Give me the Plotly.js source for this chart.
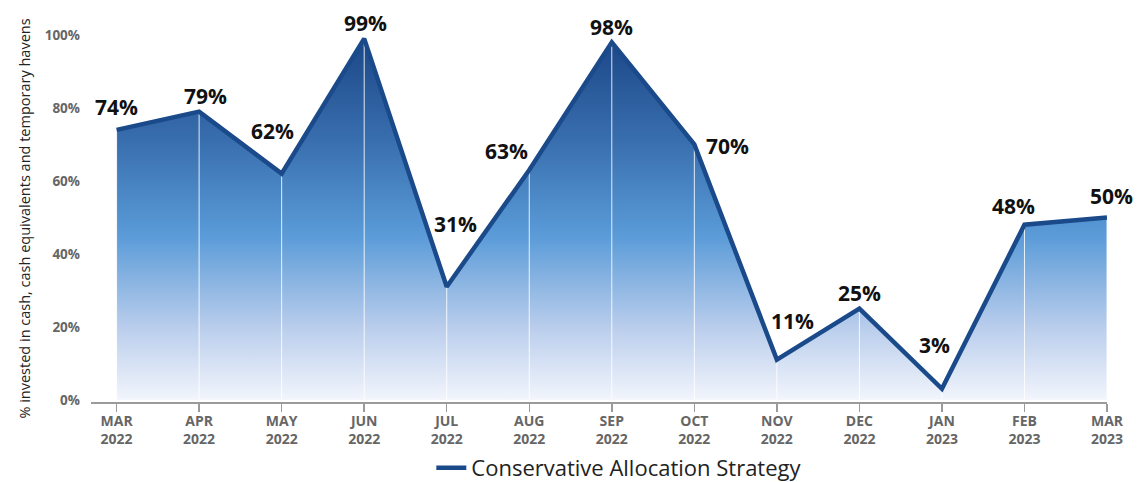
<!DOCTYPE html>
<html>
<head>
<meta charset="utf-8">
<script src="https://cdn.plot.ly/plotly-3.0.1.min.js"></script>
<style>html,body{margin:0;padding:0;background:#fff}#chart{width:1148px;height:482px}</style>
</head>
<body>
<div id="chart"></div>
<script>
const months = ["MAR<br>2022","APR<br>2022","MAY<br>2022","JUN<br>2022","JUL<br>2022","AUG<br>2022","SEP<br>2022","OCT<br>2022","NOV<br>2022","DEC<br>2022","JAN<br>2023","FEB<br>2023","MAR<br>2023"];
const values = [74,79,62,99,31,63,98,70,11,25,3,48,50];
const yTicks = [0,20,40,60,80,100];
const seriesName = "Conservative Allocation Strategy";
// label offsets from each point, in pixels (dx, dy up)
const labelDx = [0, 6, -9, 1, 9, -23, 0, 33, 16, 0, -7, -11, 4];
const labelDy = [23, 16, 43, 16, 63, 19, 15, -2, 39, 16, 44, 19, 21];

const gx = [], gy = [];
months.forEach((m,i)=>{ gx.push(m,m,null); gy.push(0,values[i],null); });

const data = [
  {
    x: months, y: values, type: 'scatter', mode: 'none', fill: 'tozeroy',
    fillgradient: {type:'vertical', start:0, stop:100,
      colorscale: [[0,'#f2f5fc'],[0.2,'#b9cdec'],[0.45,'#5a9bd8'],[0.7,'#3a70b0'],[1,'#1a4585']]},
    showlegend: false, hoverinfo: 'skip'
  },
  {
    x: gx, y: gy, type: 'scatter', mode: 'lines',
    line: {color: 'rgba(255,255,255,0.85)', width: 1},
    showlegend: false, hoverinfo: 'skip'
  },
  {
    x: months, y: values, type: 'scatter', mode: 'lines', name: seriesName,
    line: {color: '#1b4a8b', width: 4.5},
    cliponaxis: false, hoverinfo: 'skip'
  }
];

const annotations = months.map((m,i)=>({
  x: m, y: values[i], xref: 'x', yref: 'y', text: values[i] + '%', showarrow: false,
  xshift: labelDx[i], yshift: labelDy[i], xanchor: 'center', yanchor: 'middle',
  font: {family: 'Open Sans', size: 21, color: '#111', weight: 700}
}));

const layout = {
  width: 1148, height: 482,
  margin: {l: 91, r: 41, t: 35, b: 80, autoexpand: false},
  paper_bgcolor: '#fff', plot_bgcolor: '#fff',
  font: {family: 'Open Sans'},
  annotations: annotations,
  xaxis: {
    type: 'category', range: [-0.31, 12.0],
    showgrid: false, zeroline: false,
    showline: true, linecolor: '#9a9a9a', linewidth: 2,
    ticks: 'outside', ticklen: 8, tickcolor: '#9a9a9a', tickwidth: 1.5,
    ticklabelstandoff: -3,
    tickfont: {family: 'Open Sans', size: 14, color: '#666', weight: 700}
  },
  yaxis: {
    range: [-0.6, 100], tickvals: yTicks, ticktext: yTicks.map(v => v + '%'),
    showgrid: false, zeroline: false, showline: false, ticks: '',
    tickfont: {family: 'Open Sans', size: 13.5, color: '#666', weight: 700},
    ticklabelstandoff: 10,
    title: {text: '% invested in cash, cash equivalents and temporary havens',
      font: {family: 'Open Sans', size: 14.5, color: '#222'}, standoff: 10}
  },
  showlegend: true,
  legend: {orientation: 'h', x: 0.52, xanchor: 'center', y: -0.18, yanchor: 'middle',
    font: {family: 'Open Sans', size: 22, color: '#222'}}
};

Plotly.newPlot('chart', data, layout, {displayModeBar: false, staticPlot: true});
</script>
</body>
</html>
